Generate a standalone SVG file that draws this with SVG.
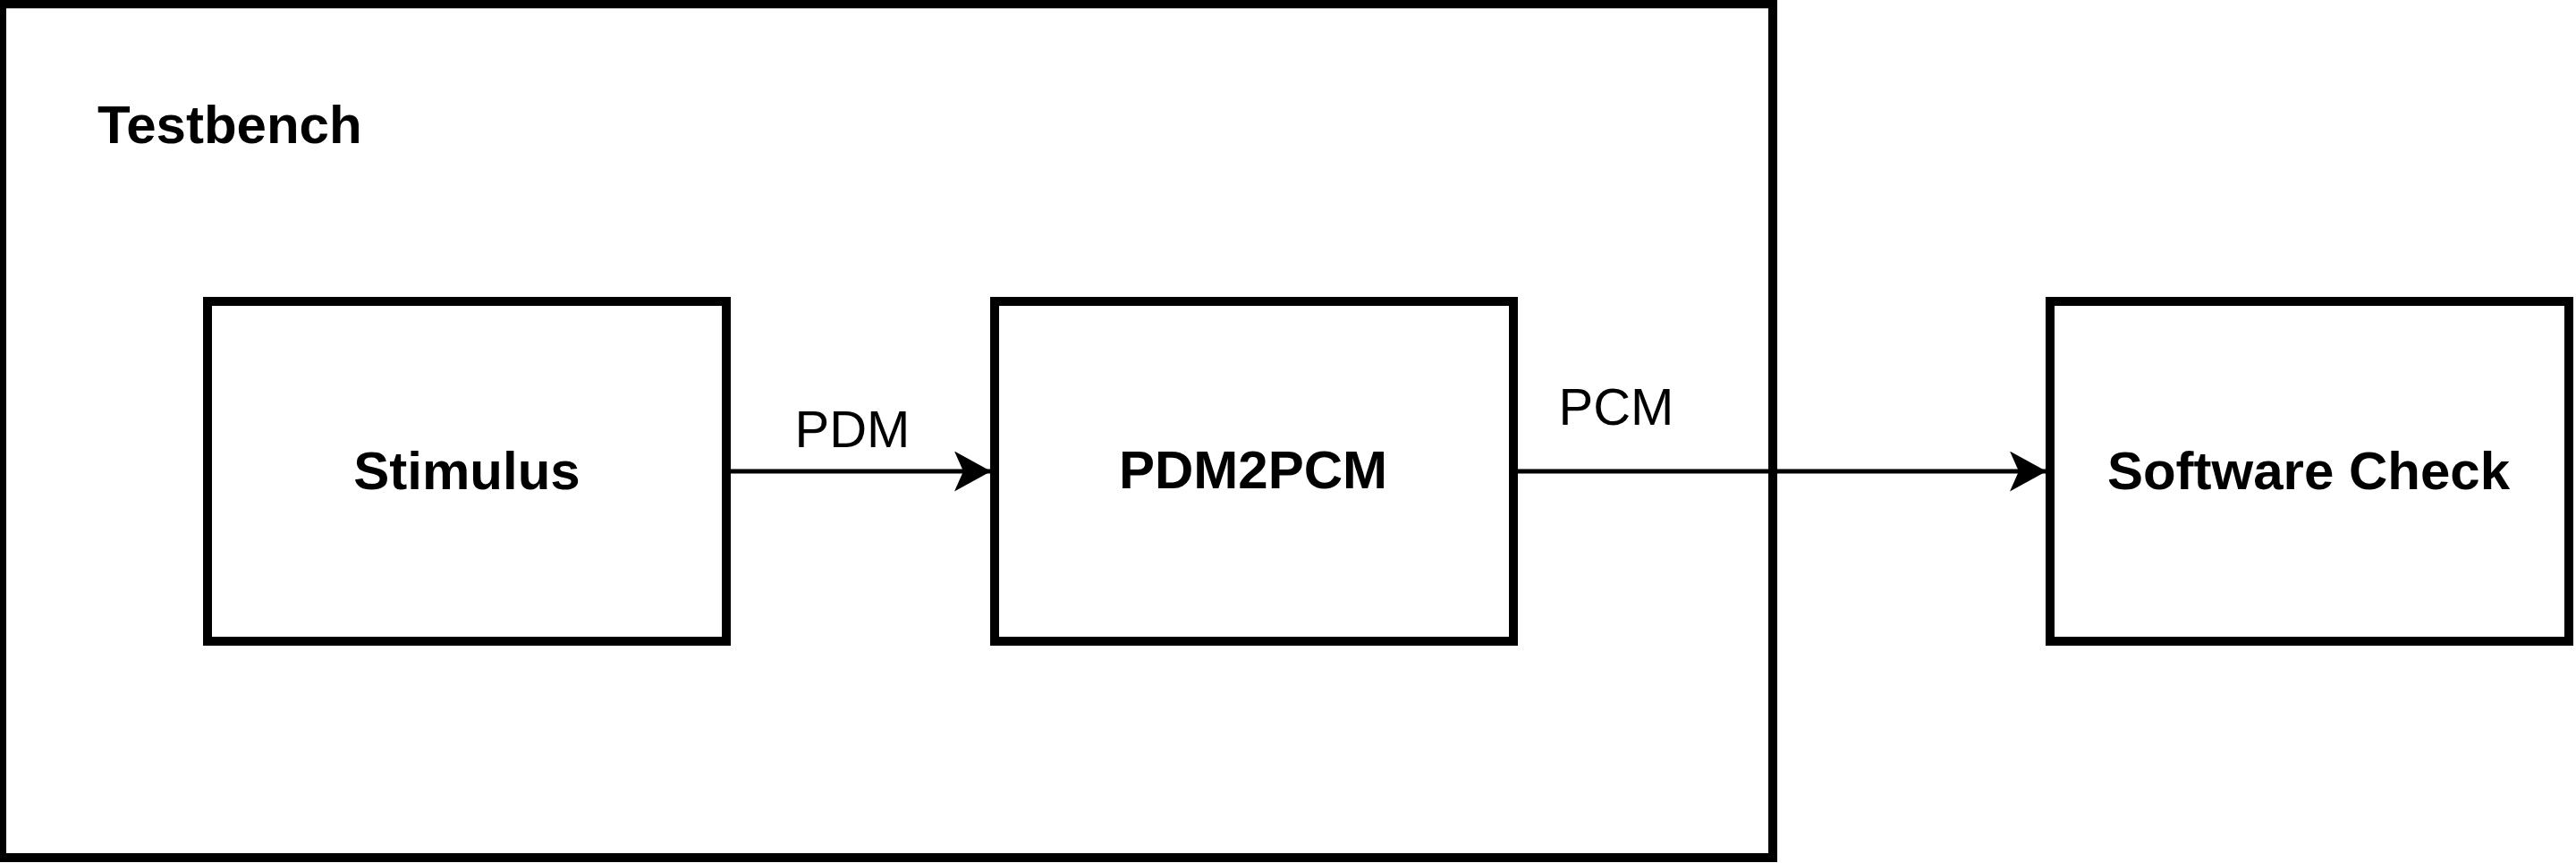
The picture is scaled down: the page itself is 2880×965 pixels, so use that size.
<svg xmlns="http://www.w3.org/2000/svg" width="2880" height="965" viewBox="0 0 2880 965">
<style>
.box{fill:#fff;stroke:#000;stroke-width:10}
.frame{fill:none;stroke:#000;stroke-width:10}
.lbl{font-family:"Liberation Sans",Arial,sans-serif;font-weight:bold;font-size:60px;fill:#000}
.elbl{font-family:"Liberation Sans",Arial,sans-serif;font-size:58px;fill:#000;text-anchor:middle}
.edge{fill:none;stroke:#000;stroke-width:5}
</style>
<defs>
<marker id="arr" markerUnits="userSpaceOnUse" markerWidth="44" markerHeight="50" refX="41" refY="22.5" orient="auto">
<path d="M0,0 L41,22.5 L0,45 L10,22.5 Z" fill="#000"/>
</marker>
</defs>
<rect width="2880" height="965" fill="#fff"/>
<g id="testbench">
<rect class="frame" x="2" y="4.3" width="1980" height="954.7"/>
<text class="lbl" x="109" y="160">Testbench</text>
</g>
<g id="stimulus">
<rect class="box" x="232" y="337" width="580" height="380"/>
<text class="lbl" x="522" y="547" text-anchor="middle">Stimulus</text>
</g>
<g id="pdm2pcm">
<rect class="box" x="1112" y="337" width="580" height="380"/>
<text class="lbl" x="1401" y="546" text-anchor="middle">PDM2PCM</text>
</g>
<g id="software-check">
<rect class="box" x="2292" y="337" width="580" height="380"/>
<text class="lbl" x="2581" y="547" text-anchor="middle">Software Check</text>
</g>
<g id="connectors">
<line class="edge" x1="817" y1="527" x2="1108" y2="527" marker-end="url(#arr)"/>
<text class="elbl" x="953" y="500">PDM</text>
<line class="edge" x1="1697" y1="527" x2="2288" y2="527" marker-end="url(#arr)"/>
<text class="elbl" x="1807" y="475">PCM</text>
</g>
</svg>
